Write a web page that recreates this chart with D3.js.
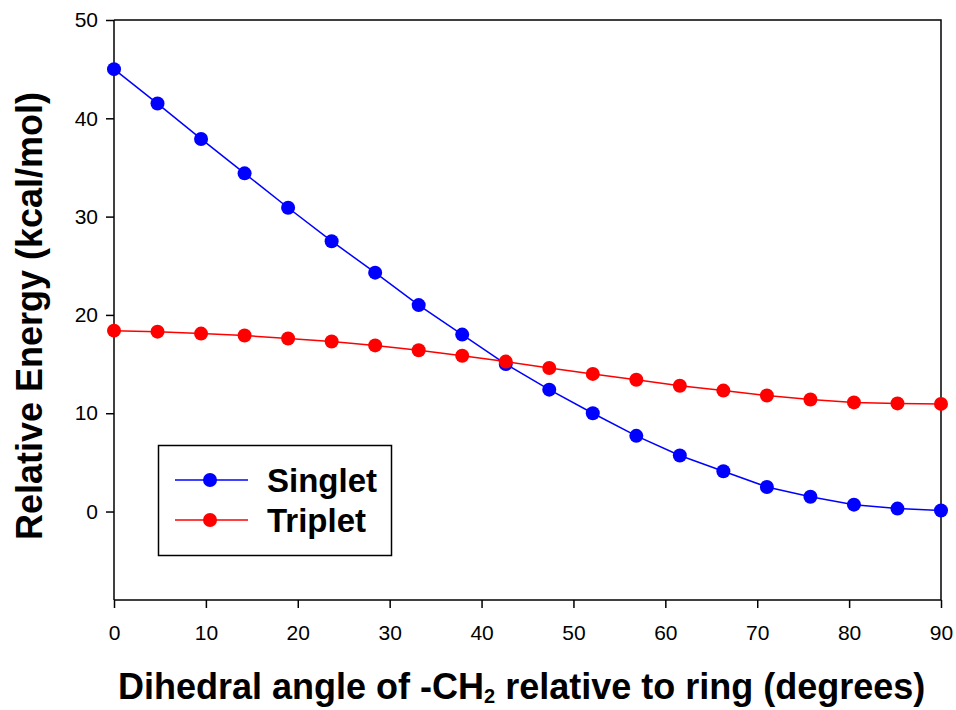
<!DOCTYPE html>
<html><head><meta charset="utf-8">
<script src="https://cdn.jsdelivr.net/npm/d3@7"></script>
<style>body{margin:0;background:#fff}svg{display:block}text{font-family:"Liberation Sans",Arial,sans-serif}</style>
</head><body>
<script>
const angles = d3.range(20).map(i => i * 90 / 19);
const singlet = [45.0,41.5,37.9,34.4,30.9,27.5,24.3,21.0,18.0,15.0,12.4,10.0,7.7,5.7,4.1,2.5,1.5,0.7,0.3,0.1];
const triplet = [18.4,18.3,18.1,17.9,17.6,17.3,16.9,16.4,15.85,15.25,14.6,14.0,13.4,12.8,12.3,11.8,11.4,11.1,11.0,10.95];
const xTicks = [0,10,20,30,40,50,60,70,80,90];
const yTicks = [0,10,20,30,40,50];
const seriesNames = ["Singlet","Triplet"];
const seriesColors = ["#0000ff","#ff0000"];

const W = 956, H = 710;
const L = 114, R = 941, T = 20, B = 600;
const svg = d3.select("body").append("svg").attr("width", W).attr("height", H);
const x = d3.scaleLinear().domain([0, 90]).range([L, R]);
const y = d3.scaleLinear().domain([-9, 50]).range([B, T]);

// frame (top & right)
svg.append("path").attr("d", `M${L},${T}H${R}V${B}`).attr("fill","none").attr("stroke","#000").attr("stroke-width",1.5);

const xa = svg.append("g").attr("transform", `translate(0,${B})`)
  .call(d3.axisBottom(x).tickValues(xTicks).tickSize(8).tickPadding(17).tickSizeOuter(0));
const ya = svg.append("g").attr("transform", `translate(${L},0)`)
  .call(d3.axisLeft(y).tickValues(yTicks).tickSize(8).tickPadding(8).tickSizeOuter(0));
[xa, ya].forEach(g => {
  g.select(".domain").attr("stroke-width", 1.5);
  g.selectAll(".tick line").attr("stroke-width", 1.5);
  g.selectAll("text").attr("font-size", 21).attr("fill", "#000").style("font-family", '"Liberation Sans",Arial,sans-serif');
});
ya.select(".domain").attr("d", `M0,${T}V${B}`);
xa.select(".domain").attr("d", `M${L},0H${R}`);

const data = [singlet, triplet];
data.forEach((vals, si) => {
  const pts = vals.map((v, i) => [angles[i], v]);
  svg.append("path").datum(pts)
    .attr("d", d3.line().x(d => x(d[0])).y(d => y(d[1])))
    .attr("fill","none").attr("stroke", seriesColors[si]).attr("stroke-width", 1.5);
  svg.append("g").selectAll("circle").data(pts).join("circle")
    .attr("cx", d => x(d[0])).attr("cy", d => y(d[1])).attr("r", 7)
    .attr("fill", seriesColors[si]);
});

// legend
const lg = svg.append("g");
lg.append("rect").attr("x",158.5).attr("y",445.5).attr("width",233).attr("height",110)
  .attr("fill","#fff").attr("stroke","#000").attr("stroke-width",1.5);
seriesNames.forEach((n, i) => {
  const yy = 480 + i * 40;
  lg.append("line").attr("x1",175).attr("x2",248).attr("y1",yy).attr("y2",yy)
    .attr("stroke", seriesColors[i]).attr("stroke-width",1.5);
  lg.append("circle").attr("cx",210).attr("cy",yy).attr("r",7).attr("fill",seriesColors[i]);
  lg.append("text").attr("x",267).attr("y",yy+12).attr("font-size",33).attr("font-weight","bold").text(n);
});

// axis titles
const xt = svg.append("text").attr("x", 118).attr("y", 699).attr("font-size", 36).attr("font-weight","bold");
xt.append("tspan").text("Dihedral angle of -CH");
xt.append("tspan").attr("font-size", 20).attr("dy", 4).text("2");
xt.append("tspan").attr("dy", -4).text(" relative to ring (degrees)");

svg.append("text").attr("transform","translate(42,316) rotate(-90)").attr("text-anchor","middle")
  .attr("font-size",36).attr("font-weight","bold").text("Relative Energy (kcal/mol)");
</script>
</body></html>
